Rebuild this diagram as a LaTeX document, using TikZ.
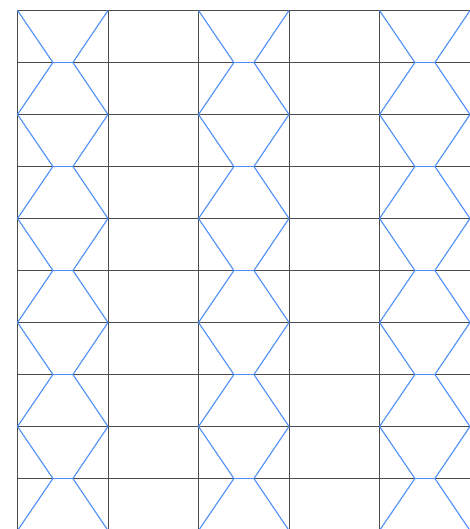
\documentclass[tikz,border=0pt]{standalone}
\usepackage{tikz}

\definecolor{tileblue}{RGB}{77,142,250}

\begin{document}
\begin{tikzpicture}[x=1pt, y=-1pt,
		gridline/.style={draw=black!70, line width=0.7pt},
		tileline/.style={draw=tileblue, line width=1.1pt, line join=round}]
		% page size of the reference
		\useasboundingbox (0,0) rectangle (470,529);
		\clip (0,0) rectangle (470,529);
		
		% Grid (cropped at right and bottom)
		\foreach \i in {0,...,5}
			\draw[gridline] (17.5+90.5*\i,10.5) -- (17.5+90.5*\i,540);
		\foreach \j in {0,...,10}
			\draw[gridline] (17.5,10.5+52*\j) -- (480,10.5+52*\j);
		
		% Hourglass tiles in every other column
		\foreach \i in {0,2,4}
			\foreach \k in {0,...,4}{
				\pgfmathsetmacro{\xa}{17.5+90.5*\i}
				\pgfmathsetmacro{\ya}{10.5+104*\k}
				\draw[tileline] (\xa,\ya) -- (\xa+35.4,\ya+52) -- (\xa,\ya+104);
				\draw[tileline] (\xa+90.5,\ya) -- (\xa+55.4,\ya+52) -- (\xa+90.5,\ya+104);
				\draw[tileline] (\xa+35.4,\ya+52) -- (\xa+55.4,\ya+52);
			}
	\end{tikzpicture}
\end{document}
